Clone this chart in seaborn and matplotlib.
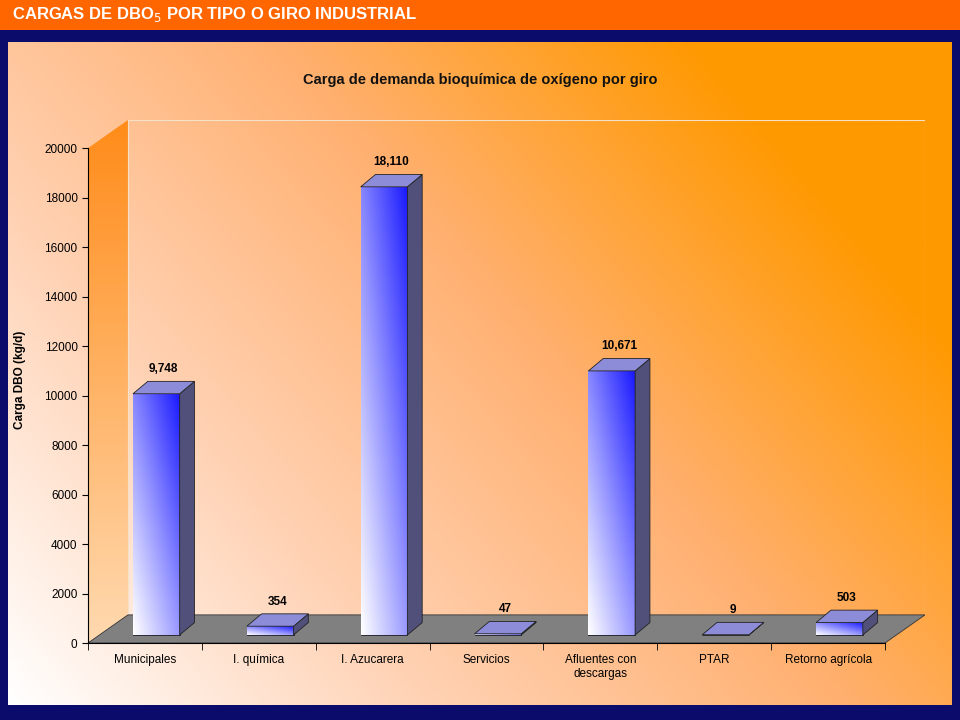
import numpy as np
import matplotlib
matplotlib.use("Agg")
import matplotlib.pyplot as plt
import seaborn as sns
import pandas as pd
from matplotlib.patches import Polygon
from matplotlib.colors import LinearSegmentedColormap

categories = ["Municipales", "I. química", "I. Azucarera", "Servicios",
              "Afluentes con\ndescargas", "PTAR", "Retorno agrícola"]
values = [9748, 354, 18110, 47, 10671, 9, 503]
yticks = list(range(0, 20001, 2000))

plt.rcParams["font.family"] = "Liberation Sans"
W, H = 960, 720
fig = plt.figure(figsize=(9.6, 7.2), dpi=100)
fig.patch.set_facecolor("#0b0b6b")

def fr(x0, y0, x1, y1):
    return [x0 / W, 1 - y1 / H, (x1 - x0) / W, (y1 - y0) / H]

# banner
bax = fig.add_axes(fr(0, 0, 960, 30)); bax.axis("off")
bax.add_patch(plt.Rectangle((0, 0), 1, 1, color="#ff6600", transform=bax.transAxes))
bax.text(0.012, 0.5, "CARGAS DE DBO$_5$ POR TIPO O GIRO INDUSTRIAL", color="white",
         fontsize=12, fontweight="bold", va="center", transform=bax.transAxes)

# gradient panel
pax = fig.add_axes(fr(8, 42, 952, 705)); pax.axis("off")
gx, gy = np.meshgrid(np.linspace(0, 1, 300), np.linspace(0, 1, 300))
t = np.clip((gx * 0.75 + gy * 0.45), 0, 1)
bg = LinearSegmentedColormap.from_list("bg", ["#ffffff", "#ffd2b4", "#ffb070", "#ff9900"])
pax.imshow(t, cmap=bg, origin="lower", extent=[0, 1, 0, 1], aspect="auto")
pax.set_xlim(0, 1); pax.set_ylim(0, 1)
pax.text(0.5, (705 - 80) / 663, "Carga de demanda bioquímica de oxígeno por giro",
         ha="center", va="center", fontsize=10.5, fontweight="bold", color="#111")
pax.text((20 - 8) / 944, (705 - 380) / 663, "Carga DBO (kg/d)", rotation=90,
         ha="center", va="center", fontsize=8.5, fontweight="bold")

ax = fig.add_axes(fr(88, 120, 925, 643))
ax.patch.set_alpha(0)
DX, DY = 0.351, 1136

df = pd.DataFrame({"cat": categories, "val": values})
sns.barplot(data=df, x="cat", y="val", ax=ax, color="#3030ff", width=0.41,
            edgecolor="#222", linewidth=0.6, zorder=4)
ax.set_xlim(-0.5, 6.5 + DX); ax.set_ylim(0, 20000 + DY)

# left wall
wall = Polygon([(-0.5, 0), (-0.5 + DX, DY), (-0.5 + DX, 20000 + DY), (-0.5, 20000)],
               closed=True, facecolor="none", edgecolor="none")
ax.add_patch(wall)
wcm = LinearSegmentedColormap.from_list("w", ["#ffd9b0", "#ff8c1a"])
im = ax.imshow(np.linspace(0, 1, 100).reshape(-1, 1), cmap=wcm, origin="lower",
               extent=[-0.5, -0.5 + DX, 0, 20000 + DY], aspect="auto", zorder=1)
im.set_clip_path(wall)
ax.plot([-0.5 + DX, -0.5 + DX, 6.5 + DX, 6.5 + DX], [DY, 20000 + DY, 20000 + DY, DY],
        color="#f5e0c8", lw=0.8, zorder=1)
ax.add_patch(Polygon([(-0.5, 0), (6.5, 0), (6.5 + DX, DY), (-0.5 + DX, DY)],
                     closed=True, facecolor="#808080", edgecolor="#333", lw=0.6, zorder=2))

bcm = LinearSegmentedColormap.from_list("b", ["#ffffff", "#9090ff", "#1a1aff"])
dxb, dyb = 0.10, 325
ddx, ddy = 0.13, 500
for i, p in enumerate(ax.patches[:len(values)]):
    v = values[i]
    x0 = i - 0.205 + dxb
    p.set_x(x0); p.set_y(dyb)
    x1 = x0 + 0.41
    top = dyb + v
    gg = np.linspace(0, 1, 60)
    img = (gg[None, :] * 0.6 + gg[:, None] * 0.7)
    im = ax.imshow(img, cmap=bcm, origin="lower", extent=[x0, x1, dyb, max(top, dyb + 1)],
                   aspect="auto", zorder=4.5, vmin=0, vmax=1.3)
    im.set_clip_path(p)
    ax.add_patch(Polygon([(x1, dyb), (x1 + ddx, dyb + ddy), (x1 + ddx, top + ddy), (x1, top)],
                         closed=True, facecolor="#50507a", edgecolor="#222", lw=0.6, zorder=5))
    ax.add_patch(Polygon([(x0, top), (x1, top), (x1 + ddx, top + ddy), (x0 + ddx, top + ddy)],
                         closed=True, facecolor="#8c8cd8", edgecolor="#222", lw=0.6, zorder=5))
    ax.text((x0 + x1) / 2 + ddx / 2, top + ddy + 250, f"{v:,}", ha="center", va="bottom",
            fontsize=8.5, fontweight="bold", zorder=6)

ax.set_xlim(-0.5, 6.5 + DX); ax.set_ylim(0, 20000 + DY)
ax.set_xlabel(""); ax.set_ylabel("")
for s in ["top", "right"]:
    ax.spines[s].set_visible(False)
ax.spines["left"].set_bounds(0, 20000)
ax.spines["bottom"].set_bounds(-0.5, 6.5)
ax.set_yticks(yticks)
ax.set_yticklabels([str(y) for y in yticks], fontsize=8.5)
ax.set_xticks(range(7))
ax.set_xticklabels(categories, fontsize=8.5)
ax.tick_params(axis="x", length=0, pad=8)
ax.set_xticks(np.arange(-0.5, 7, 1), minor=True)
ax.tick_params(axis="x", which="minor", length=5)
ax.tick_params(axis="y", length=4)
fig.savefig("out.png", dpi=100, facecolor=fig.get_facecolor())
